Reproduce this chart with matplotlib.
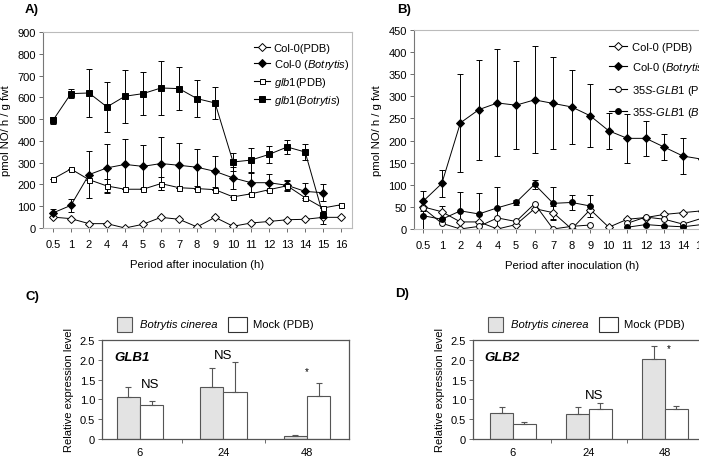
import matplotlib.pyplot as plt
import numpy as np
from matplotlib.patches import Rectangle
from matplotlib.lines import Line2D

plt.rcParams['font.family'] = ['Liberation Sans', 'DejaVu Sans']
plt.rcParams['mathtext.fontset'] = 'custom'
plt.rcParams['mathtext.rm'] = 'Liberation Sans'
plt.rcParams['mathtext.it'] = 'Liberation Sans:italic'
plt.rcParams['mathtext.bf'] = 'Liberation Sans:bold'

nan = np.nan
hours = ["0.5", "1", "2", "4", "4", "5", "6", "7", "8", "9", "10", "11", "12", "13", "14", "15", "16"]

# panel A
a_col_pdb = [50, 43, 20, 20, 0, 17, 49, 40, 5, 49, 8, 23, 30, 38, 40, 49, 49]
a_col_bot = [69, 104, 245, 276, 292, 283, 296, 288, 279, 260, 230, 208, 208, 196, 168, 162, nan]
a_col_bot_err = [20, 30, 107, 111, 115, 100, 122, 104, 85, 70, 50, 45, 40, 25, 40, 38, nan]
a_glb_pdb = [225, 271, 222, 193, 178, 178, 204, 185, 181, 176, 143, 157, 176, 194, 139, 92, 107]
a_glb_pdb_err = [0, 0, 0, 30, 0, 0, 30, 0, 0, 0, 0, 0, 0, 20, 0, 0, 0]
a_glb_bot = [494, 617, 620, 556, 605, 617, 643, 640, 594, 574, 303, 312, 338, 372, 349, 58, nan]
a_glb_bot_err = [15, 20, 110, 115, 122, 100, 122, 100, 85, 75, 40, 55, 38, 32, 38, 40, nan]

# panel B
b_col_pdb = [50, 39, 16, 16, 0, 10, 46, 37, 0, 44, 4, 22, 26, 33, 37, 41, 45]
b_col_pdb_err = [0, 14, 0, 0, 0, 0, 0, 15, 0, 0, 0, 0, 0, 0, 0, 0, 0]
b_col_bot = [63, 103, 240, 270, 285, 280, 292, 284, 276, 256, 222, 205, 205, 185, 165, 158, 150]
b_col_bot_err = [22, 30, 110, 113, 121, 100, 121, 104, 83, 71, 40, 56, 40, 30, 40, 40, 40]
b_35s_pdb = [47, 13, 0, 6, 25, 17, 57, 0, 6, 9, nan, 13, 27, 22, 11, 24, 30]
b_35s_bot = [30, 22, 41, 34, 48, 60, 101, 58, 60, 52, nan, 4, 10, 7, 5, 10, 12]
b_35s_bot_err = [30, 0, 42, 48, 46, 5, 10, 38, 16, 24, nan, 0, 0, 0, 0, 0, 0]

# panels C and D
days = ["6", "24", "48"]
c_bot = [1.07, 1.31, 0.07]
c_bot_err = [0.25, 0.49, 0.04]
c_mock = [0.87, 1.18, 1.08]
c_mock_err = [0.10, 0.77, 0.33]
d_bot = [0.66, 0.64, 2.01]
d_bot_err = [0.16, 0.17, 0.33]
d_mock = [0.37, 0.77, 0.77]
d_mock_err = [0.05, 0.14, 0.06]

W, H = 727, 477
fig = plt.figure(figsize=(W / 100, H / 100), dpi=100)


def box(l, t, r, b):
    return [l / W, 1 - b / H, (r - l) / W, (b - t) / H]


def style_line_axes(ax, ymax, ystep):
    ax.set_ylim(0, ymax)
    ax.set_yticks(np.arange(0, ymax + 1, ystep))
    ax.set_xticks(range(len(hours)))
    ax.set_xticklabels(hours)
    ax.tick_params(labelsize=8, length=3, width=0.6, color='#555555', pad=2)
    ax.tick_params(axis='x', pad=5)
    for s in ['top', 'right', 'bottom']:
        ax.spines[s].set_color('#bbbbbb')
        ax.spines[s].set_linewidth(0.8)
    ax.spines['left'].set_color('#777777')
    ax.spines['left'].set_linewidth(0.8)
    ax.set_ylabel("pmol NO/ h / g fwt", fontsize=8.2, labelpad=5)
    ax.set_xlabel("Period after inoculation (h)", fontsize=8.2, labelpad=7)


def series(ax, y, err, marker, fc, ms, label):
    x = np.arange(len(y))
    ax.errorbar(x, y, yerr=err, color='black', marker=marker, mfc=fc, mec='black',
                ms=ms, lw=0.7, elinewidth=0.7, capsize=2, capthick=0.7, mew=0.7, label=label)


def handles(spec):
    return [Line2D([], [], color='black', lw=0.8, marker=m, mfc=f, mec='black', ms=s, mew=0.7)
            for m, f, s in spec]


# ---- A ----
axA = fig.add_axes(box(43, 33, 352, 229))
series(axA, a_col_pdb, None, 'D', 'white', 3.8, "Col-0(PDB)")
series(axA, a_col_bot, a_col_bot_err, 'D', 'black', 4.0, "Col-0 (Botrytis)")
series(axA, a_glb_pdb, a_glb_pdb_err, 's', 'white', 3.6, "glb1(PDB)")
series(axA, a_glb_bot, a_glb_bot_err, 's', 'black', 5.0, "glb1(Botrytis)")
axA.set_xlim(-0.55, 16.6)
style_line_axes(axA, 900, 100)
hA = handles([('D', 'white', 3.8), ('D', 'black', 4.0), ('s', 'white', 3.6), ('s', 'black', 5.0)])
axA.legend(hA, ["Col-0(PDB)", "Col-0 ($\\mathit{Botrytis}$)", "$\\mathit{glb1}$(PDB)",
                "$\\mathit{glb1(Botrytis)}$"],
           loc='upper left', bbox_to_anchor=(0.655, 0.99), frameon=False, fontsize=8,
           handlelength=1.4, labelspacing=0.35, borderpad=0.3, handletextpad=0.35)

# ---- B ----
axB = fig.add_axes(box(414, 31, 414 + 17 * 18.55, 230))
series(axB, b_col_pdb, b_col_pdb_err, 'D', 'white', 3.8, "Col-0 (PDB)")
series(axB, b_col_bot, b_col_bot_err, 'D', 'black', 4.0, "Col-0 (Botrytis)")
series(axB, b_35s_pdb, None, 'o', 'white', 4.2, "35S-GLB1 (PDB)")
series(axB, b_35s_bot, b_35s_bot_err, 'o', 'black', 4.2, "35S-GLB1 (Botrytis)")
axB.set_xlim(-0.5, 16.5)
style_line_axes(axB, 450, 50)
hB = handles([('D', 'white', 3.8), ('D', 'black', 4.0), ('o', 'white', 4.2), ('o', 'black', 4.2)])
axB.legend(hB, ["Col-0 (PDB)", "Col-0 ($\\mathit{Botrytis}$)", "$\\mathit{35S}$-$\\mathit{GLB1}$ (PDB)",
                "$\\mathit{35S}$-$\\mathit{GLB1}$ ($\\mathit{Botrytis}$)"],
           loc='upper left', bbox_to_anchor=(0.59, 0.985), frameon=False, fontsize=8,
           handlelength=1.6, labelspacing=0.75, borderpad=0.3, handletextpad=0.5)


# ---- C and D ----
def bar_panel(ax, bot, bot_err, mock, mock_err, width, gene, notes, right_spine):
    x = np.arange(len(days))
    ax.bar(x - width / 2, bot, width, color='#e3e3e3', edgecolor='#555555', lw=0.8)
    ax.bar(x + width / 2, mock, width, color='white', edgecolor='#555555', lw=0.8)
    ax.errorbar(x - width / 2, bot, yerr=[np.zeros(3), bot_err], fmt='none', ecolor='#555555',
                elinewidth=0.8, capsize=2.2, capthick=0.8)
    ax.errorbar(x + width / 2, mock, yerr=[np.zeros(3), mock_err], fmt='none', ecolor='#555555',
                elinewidth=0.8, capsize=2.2, capthick=0.8)
    ax.set_ylim(0, 2.5)
    ax.set_yticks([0, 0.5, 1.0, 1.5, 2.0, 2.5])
    ax.set_yticklabels(["0", "0.5", "1.0", "1.5", "2.0", "2.5"])
    ax.set_xticks(x)
    ax.set_xticklabels(days)
    ax.set_xticks([0.5, 1.5], minor=True)
    ax.tick_params(axis='x', which='major', length=0, pad=6)
    ax.tick_params(axis='x', which='minor', length=3, width=0.6, color='#555555')
    ax.tick_params(labelsize=8)
    ax.tick_params(axis='y', length=3, width=0.6, color='#555555', pad=2)
    for s in ax.spines.values():
        s.set_color('#555555')
        s.set_linewidth(0.9)
    ax.spines['right'].set_visible(right_spine)
    ax.set_ylabel("Relative expression level", fontsize=8, labelpad=4)
    ax.text(0.05, 0.83, gene, transform=ax.transAxes, fontsize=9.5, fontweight='bold',
            fontstyle='italic', va='center')
    for xi, yi, txt in notes:
        ax.text(xi, yi, txt, ha='center', va='center', fontsize=9.5 if txt == "NS" else 7)


def bar_legend(l, y):
    # legend placed in figure pixels above each bar panel
    fig.add_artist(Rectangle((l / W, 1 - (y + 7.5) / H), 15 / W, 15 / H, transform=fig.transFigure,
                             facecolor='#e3e3e3', edgecolor='#555555', lw=0.8))
    fig.text((l + 23) / W, 1 - y / H, "Botrytis cinerea", fontsize=8.1, fontstyle='italic', va='center')
    fig.text((l + 136) / W, 1 - y / H, "Mock (PDB)", fontsize=8.1, va='center')
    fig.add_artist(Rectangle(((l + 111) / W, 1 - (y + 7.5) / H), 19 / W, 15 / H, transform=fig.transFigure,
                             facecolor='white', edgecolor='#333333', lw=0.8))


axC = fig.add_axes(box(102, 341, 349, 440))
bar_panel(axC, c_bot, c_bot_err, c_mock, c_mock_err, 0.28, "GLB1",
          [(0.12, 1.38, "NS"), (1.0, 2.13, "NS"), (2.0, 1.72, "*")], True)
axC.set_xlim(-0.455, 2.503)
bar_legend(117, 325)

axD = fig.add_axes(box(473, 341, 705, 440))
bar_panel(axD, d_bot, d_bot_err, d_mock, d_mock_err, 0.30, "GLB2",
          [(1.07, 1.12, "NS"), (2.05, 2.3, "*")], False)
axD.set_xlim(-0.526, 2.526)
bar_legend(488, 325)

for lab, x, y in [("A)", 25, 10), ("B)", 397, 10), ("C)", 25, 297), ("D)", 395, 294)]:
    fig.text(x / W, 1 - y / H, lab, fontsize=9.5, fontweight='bold', va='center')

# the original figure is cut off on the right
fig.add_artist(Rectangle((699 / W, 0), 1, 1, transform=fig.transFigure, facecolor='white',
                         edgecolor='none', zorder=10))

fig.savefig("out.png", dpi=100)
